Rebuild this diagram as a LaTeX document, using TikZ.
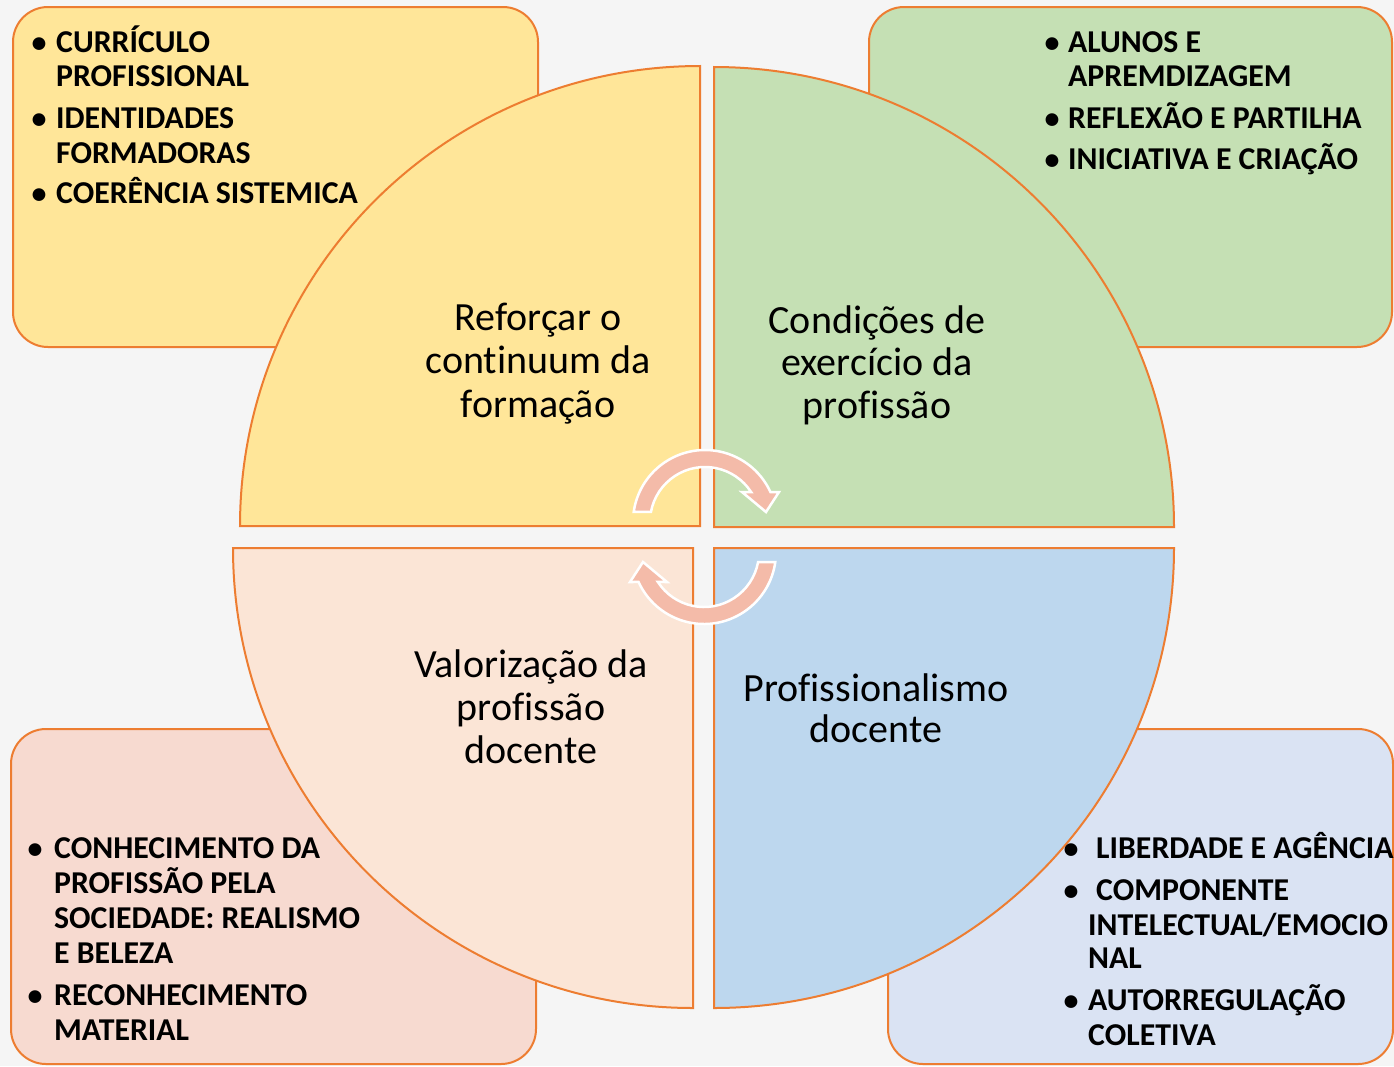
\documentclass[tikz,border=0pt]{standalone}
\usepackage{fontspec}
\setmainfont{Carlito}[Ligatures=NoCommon]
\definecolor{bgc}{HTML}{F5F5F5}
\definecolor{orng}{HTML}{ED7D31}
\definecolor{yelf}{HTML}{FFE699}
\definecolor{grnf}{HTML}{C5E0B4}
\definecolor{pnkbox}{HTML}{F7DAD0}
\definecolor{pchq}{HTML}{FBE5D6}
\definecolor{bluq}{HTML}{BDD7EE}
\definecolor{blubox}{HTML}{DAE3F3}
\definecolor{arrf}{HTML}{F4BBA9}
\tikzset{
  cbox/.style={draw=orng, line width=2pt, rounded corners=35pt},
  quad/.style={draw=orng, line width=2pt},
  bul/.style={font=\bfseries\fontsize{31.8}{35}\selectfont, anchor=base west, inner sep=0pt},
  dot/.style={font=\bfseries\fontsize{30}{35}\selectfont, anchor=base, inner sep=0pt},
  lab/.style={font=\fontsize{40}{43}\selectfont, anchor=base, inner sep=0pt},
  cyc/.style={fill=arrf, draw=white, line width=2.5pt, line join=miter}
}
\begin{document}
\begin{tikzpicture}[x=1pt,y=-1pt]
\useasboundingbox (0,0) rectangle (1394,1066);
\fill[bgc] (0,0) rectangle (1394,1066);
% corner boxes
\path[cbox, fill=yelf] (13,7) rectangle (538,347);
\path[cbox, fill=grnf] (869,7) rectangle (1392,347);
\path[cbox, fill=pnkbox] (11,729) rectangle (536,1064);
\path[cbox, fill=blubox] (888,729) rectangle (1393,1064);
% quarter discs
\path[quad, fill=yelf] (700,526) -- (240,526) arc[start angle=180, end angle=270, radius=460] -- cycle;
\path[quad, fill=grnf] (714,527) -- (714,67) arc[start angle=270, end angle=360, radius=460] -- cycle;
\path[quad, fill=pchq] (693,548) -- (693,1008) arc[start angle=90, end angle=180, radius=460] -- cycle;
\path[quad, fill=bluq] (714,548) -- (1174,548) arc[start angle=0, end angle=90, radius=460] -- cycle;
% circular arrows
\begin{scope}[shift={(705,522)}]
\path[cyc] (188:72) arc[start angle=188, end angle=335.4, radius=72]
  -- (74,-30) -- (61,-10) -- (37,-30) -- (-33:55)
  arc[start angle=-33, end angle=-169.5, radius=55] -- cycle;
\end{scope}
\begin{scope}[shift={(704,552)}]
\path[cyc] (8:72) arc[start angle=8, end angle=155.4, radius=72]
  -- (-74,30) -- (-61,10) -- (-37,30) -- (147:55)
  arc[start angle=147, end angle=10.5, radius=55] -- cycle;
\end{scope}
% quadrant labels
\node[lab] (a1) at (538,330) {Reforçar o};
\node[lab] (a2) at (538,373) {continuum da};
\node[lab] (a3) at (538,417) {formação};
\node[lab] (b1) at (877,333) {Condições de};
\node[lab] (b2) at (877,375) {exercício da};
\node[lab] (b3) at (877,418) {profissão};
\node[lab] (c1) at (531,677) {Valorização da};
\node[lab] (c2) at (531,720) {profissão};
\node[lab] (c3) at (531,763) {docente};
\node[lab] (d1) at (876,701) {Profissionalismo};
\node[lab] (d2) at (876,742) {docente};
% top-left list
\node[dot] (tlb1) at (39,52) {•};
\node[bul] (tl1) at (56,52) {CURRÍCULO};
\node[bul] (tl2) at (56,86) {PROFISSIONAL};
\node[dot] (tlb2) at (39,128) {•};
\node[bul] (tl3) at (56,128) {IDENTIDADES};
\node[bul] (tl4) at (56,163) {FORMADORAS};
\node[dot] (tlb3) at (39,203) {•};
\node[bul] (tl5) at (56,203) {COERÊNCIA SISTEMICA};
% top-right list
\node[dot] (trb1) at (1052,52) {•};
\node[bul] (tr1) at (1068,52) {ALUNOS E};
\node[bul] (tr2) at (1068,86) {APREMDIZAGEM};
\node[dot] (trb2) at (1052,128) {•};
\node[bul] (tr3) at (1068,128) {REFLEXÃO E PARTILHA};
\node[dot] (trb3) at (1052,169) {•};
\node[bul] (tr4) at (1068,169) {INICIATIVA E CRIAÇÃO};
% bottom-left list
\node[dot] (blb1) at (35,858) {•};
\node[bul] (bl1) at (54,858) {CONHECIMENTO DA};
\node[bul] (bl2) at (54,893) {PROFISSÃO PELA};
\node[bul] (bl3) at (54,928) {SOCIEDADE: REALISMO};
\node[bul] (bl4) at (54,963) {E BELEZA};
\node[dot] (blb2) at (35,1005) {•};
\node[bul] (bl5) at (54,1005) {RECONHECIMENTO};
\node[bul] (bl6) at (54,1040) {MATERIAL};
% bottom-right list
\node[dot] (brb1) at (1071,858) {•};
\node[bul] (br1) at (1096,858) {LIBERDADE E AGÊNCIA};
\node[dot] (brb2) at (1071,900) {•};
\node[bul] (br2) at (1096,900) {COMPONENTE};
\node[bul] (br3) at (1088,935) {INTELECTUAL/EMOCIO};
\node[bul] (br4) at (1088,968) {NAL};
\node[dot] (brb3) at (1071,1010) {•};
\node[bul] (br5) at (1088,1010) {AUTORREGULAÇÃO};
\node[bul] (br6) at (1088,1045) {COLETIVA};
\end{tikzpicture}
\end{document}
